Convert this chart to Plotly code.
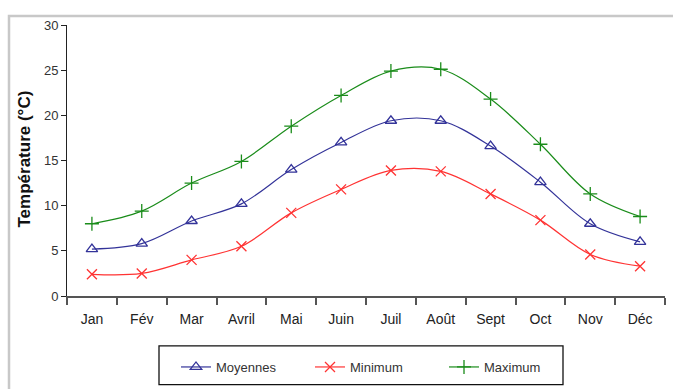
import plotly.graph_objects as go

months = ["Jan", "Fév", "Mar", "Avril", "Mai", "Juin", "Juil", "Août", "Sept", "Oct", "Nov", "Déc"]
moyennes = [5.2, 5.8, 8.3, 10.2, 14.0, 17.0, 19.4, 19.4, 16.6, 12.6, 8.0, 6.0]
minimum = [2.4, 2.5, 4.0, 5.5, 9.2, 11.8, 13.9, 13.8, 11.3, 8.4, 4.6, 3.3]
maximum = [8.0, 9.4, 12.5, 14.9, 18.8, 22.2, 24.9, 25.1, 21.8, 16.8, 11.3, 8.8]

W, H = 673, 389
L, R, T, B = 67, 8, 25, 92
pw, ph = W - L - R, H - T - B

def px(x):
    return (x - L) / pw

def py(y):
    return (H - B - y) / ph

fig = go.Figure()
series = [
    ("Moyennes", moyennes, "#333399", "triangle-up-open"),
    ("Minimum", minimum, "#ff3333", "x-thin-open"),
    ("Maximum", maximum, "#1a8c1a", "cross-thin-open"),
]
for name, vals, col, sym in series:
    fig.add_trace(go.Scatter(
        x=months, y=vals, name=name, mode="lines+markers",
        line=dict(color=col, width=1.2, shape="spline", smoothing=1.0),
        marker=dict(symbol=sym, size=10, color=col, line=dict(color=col, width=1.3)),
    ))

font = "Liberation Sans, Arial, sans-serif"
fig.update_layout(
    width=W, height=H,
    margin=dict(l=L, r=R, t=T, b=B),
    paper_bgcolor="white", plot_bgcolor="white",
    font=dict(family=font, size=12, color="#222"),
    showlegend=True,
    legend=dict(
        orientation="h", x=px(176), y=py(367), xanchor="left", yanchor="middle",
        font=dict(size=13, color="#333"), bgcolor="rgba(0,0,0,0)",
        borderwidth=0, entrywidth=89, entrywidthmode="pixels",
    ),
    xaxis=dict(
        showgrid=False, showline=True, linecolor="#555", linewidth=2,
        ticks="outside", ticklen=7, tickcolor="#555", tickwidth=1.5,
        tickson="boundaries", tickfont=dict(size=14, color="#222"),
        ticklabelstandoff=9,
        range=[-0.5, 11.5], fixedrange=True,
    ),
    yaxis=dict(
        showgrid=False, showline=True, linecolor="#222", linewidth=1,
        ticks="outside", ticklen=5, tickcolor="#222",
        range=[0, 30], dtick=5, zeroline=False,
        tickfont=dict(size=13, color="#333"),
    ),
    shapes=[
        dict(type="rect", xref="paper", yref="paper",
             x0=px(9), x1=px(690), y0=py(16), y1=py(420),
             line=dict(color="#c8c8c8", width=2.5), layer="below"),
        dict(type="rect", xref="paper", yref="paper",
             x0=px(159), x1=px(563), y0=py(347), y1=py(386),
             line=dict(color="#111", width=1.3)),
    ],
    annotations=[
        dict(text="<b>Température (°C)</b>", xref="paper", yref="paper",
             x=px(25), y=py(160), textangle=-90, showarrow=False,
             font=dict(size=17, color="#111"), xanchor="center", yanchor="middle"),
    ],
)

fig.write_html("out.html", config={"displayModeBar": False},
               post_script="document.body.style.margin='0px';document.body.style.overflow='hidden';")
